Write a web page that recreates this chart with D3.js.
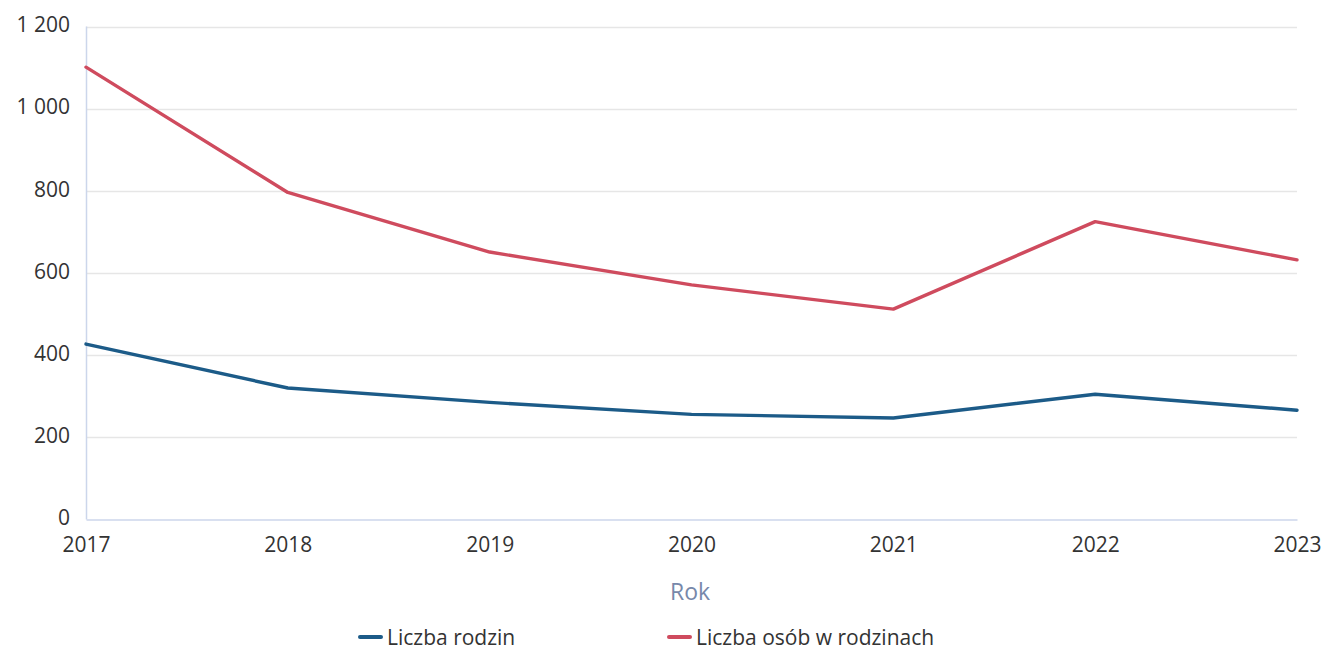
<!DOCTYPE html>
<html><head><meta charset="utf-8">
<script src="https://cdn.jsdelivr.net/npm/d3@7"></script>
<style>
html,body{margin:0;padding:0;background:#fff;}
svg{display:block;font-family:"Open Sans",sans-serif;}
</style></head>
<body>
<svg id="chart" width="1324" height="649"></svg>
<script>
const years = [2017, 2018, 2019, 2020, 2021, 2022, 2023];
const liczbaRodzin = [427, 320, 285, 256, 247, 305, 266];
const liczbaOsob = [1101, 796, 651, 571, 512, 725, 632];
const yTicks = [0, 200, 400, 600, 800, 1000, 1200];
const seriesNames = ["Liczba rodzin", "Liczba osób w rodzinach"];
const seriesColors = ["#1c5b88", "#cf4b5e"];

const svg = d3.select("#chart");
const x = d3.scalePoint().domain(years).range([86, 1297]);
const y = d3.scaleLinear().domain([0, 1200]).range([519.5, 26.5]);

// gridlines
svg.append("g").selectAll("line").data(yTicks.filter(d => d > 0)).join("line")
  .attr("x1", 86).attr("x2", 1297)
  .attr("y1", d => Math.round(y(d)) + 0.5).attr("y2", d => Math.round(y(d)) + 0.5)
  .attr("stroke", "#e6e6e6").attr("stroke-width", 1.5);

// y axis line
svg.append("line").attr("x1", 86.5).attr("x2", 86.5).attr("y1", y(1200)).attr("y2", y(0))
  .attr("stroke", "#ccd6eb").attr("stroke-width", 1.5);

// y axis labels
const fmt = v => d3.format(",")(v).replace(/,/g, "\u00a0");
const yAxis = d3.axisLeft(y).tickValues(yTicks).tickFormat(fmt).tickSize(0).tickPadding(16);
const gy = svg.append("g").attr("transform", "translate(86,0)").call(yAxis);
gy.select(".domain").remove();
gy.selectAll("text").attr("font-size", 21).attr("fill", "#333").attr("font-family", "'Open Sans',sans-serif")
  .attr("dy", "0.25em");

// x axis
const xAxis = d3.axisBottom(x).tickSize(0).tickPadding(18);
const gx = svg.append("g").attr("transform", `translate(0,${y(0)})`).call(xAxis);
gx.select(".domain").attr("stroke", "#ccd6eb").attr("stroke-width", 1.5);
gx.selectAll("text").attr("font-size", 21).attr("fill", "#333").attr("font-family", "'Open Sans',sans-serif");

// axis title
svg.append("text").attr("x", 690).attr("y", 600)
  .attr("text-anchor", "middle").attr("font-size", 23).attr("fill", "#7788aa").text("Rok");

// lines
const line = d3.line().x((d, i) => x(years[i])).y(d => y(d));
[liczbaRodzin, liczbaOsob].forEach((s, i) => {
  svg.append("path").datum(s).attr("d", line)
    .attr("fill", "none").attr("stroke", seriesColors[i]).attr("stroke-width", 3.4)
    .attr("stroke-linejoin", "round").attr("stroke-linecap", "round");
});

// legend
const legendX = [360, 669];
seriesNames.forEach((n, i) => {
  const g = svg.append("g").attr("transform", `translate(${legendX[i]},637)`);
  g.append("line").attr("x1", 0).attr("x2", 21).attr("y1", 0).attr("y2", 0)
    .attr("stroke", seriesColors[i]).attr("stroke-width", 4).attr("stroke-linecap", "round");
  g.append("text").attr("x", 27).attr("y", 7.5).attr("font-size", 21).attr("fill", "#333").text(n);
});
</script>
</body></html>
